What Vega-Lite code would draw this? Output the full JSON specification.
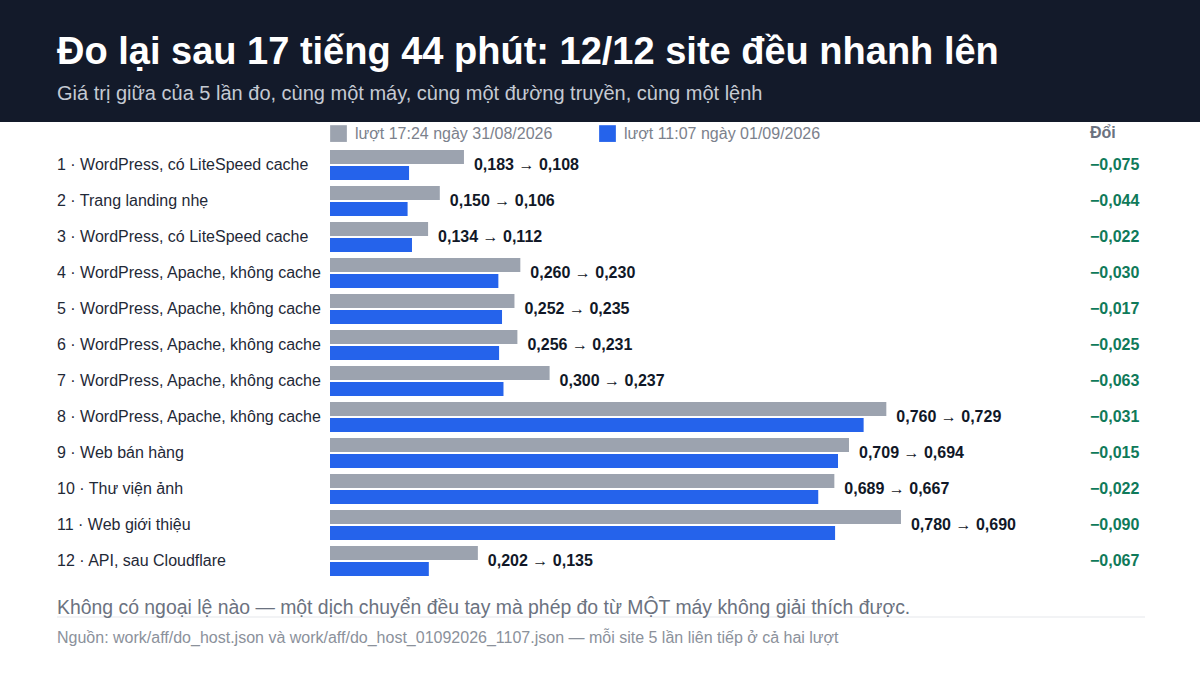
{
  "$schema": "https://vega.github.io/schema/vega-lite/v6.json",
  "width": 1200,
  "height": 553,
  "autosize": "none",
  "padding": {"left": 0, "top": 122, "right": 0, "bottom": 0},
  "background": "#131a2a",
  "title": {
    "text": "Đo lại sau 17 tiếng 44 phút: 12/12 site đều nhanh lên",
    "subtitle": "Giá trị giữa của 5 lần đo, cùng một máy, cùng một đường truyền, cùng một lệnh",
    "anchor": "start",
    "frame": "group",
    "orient": "top",
    "dx": 57,
    "offset": 18,
    "font": "Liberation Sans",
    "fontSize": 38,
    "fontWeight": "bold",
    "color": "#ffffff",
    "subtitleFont": "Liberation Sans",
    "subtitleFontSize": 20,
    "subtitleColor": "#c5cad3",
    "subtitlePadding": 12
  },
  "data": {
    "values": [
      {"rank": 1, "site": "WordPress, có LiteSpeed cache", "before": 0.183, "after": 0.108},
      {"rank": 2, "site": "Trang landing nhẹ", "before": 0.150, "after": 0.106},
      {"rank": 3, "site": "WordPress, có LiteSpeed cache", "before": 0.134, "after": 0.112},
      {"rank": 4, "site": "WordPress, Apache, không cache", "before": 0.260, "after": 0.230},
      {"rank": 5, "site": "WordPress, Apache, không cache", "before": 0.252, "after": 0.235},
      {"rank": 6, "site": "WordPress, Apache, không cache", "before": 0.256, "after": 0.231},
      {"rank": 7, "site": "WordPress, Apache, không cache", "before": 0.300, "after": 0.237},
      {"rank": 8, "site": "WordPress, Apache, không cache", "before": 0.760, "after": 0.729},
      {"rank": 9, "site": "Web bán hàng", "before": 0.709, "after": 0.694},
      {"rank": 10, "site": "Thư viện ảnh", "before": 0.689, "after": 0.667},
      {"rank": 11, "site": "Web giới thiệu", "before": 0.780, "after": 0.690},
      {"rank": 12, "site": "API, sau Cloudflare", "before": 0.202, "after": 0.135}
    ]
  },
  "transform": [
    {"calculate": "datum.rank + ' · ' + datum.site", "as": "label"},
    {"calculate": "replace(format(datum.before, '.3f'), '.', ',') + ' → ' + replace(format(datum.after, '.3f'), '.', ',')", "as": "pair"},
    {"calculate": "(datum.after < datum.before ? '−' : '+') + replace(format(abs(datum.after - datum.before), '.3f'), '.', ',')", "as": "delta"}
  ],
  "layer": [
    {
      "mark": {"type": "bar", "size": 14, "yOffset": -8},
      "encoding": {
        "x": {"field": "before", "type": "quantitative", "scale": {"domain": [-0.45082, 1.18852], "nice": false, "zero": false, "padding": 0}, "axis": null},
        "x2": {"datum": 0},
        "y": {"field": "rank", "type": "quantitative", "scale": {"domain": [-0.19444, 15.16667], "nice": false, "zero": false, "padding": 0, "reverse": true}, "axis": null},
        "color": {
          "datum": "t1",
          "type": "nominal",
          "scale": {"domain": ["t1", "t2"], "range": ["#9ca3af", "#2563eb"]},
          "legend": {
            "orient": "none",
            "legendX": 330,
            "legendY": 3,
            "direction": "horizontal",
            "title": null,
            "symbolType": "square",
            "symbolSize": 280,
            "symbolStrokeWidth": 0,
            "symbolOpacity": 1,
            "labelFont": "Liberation Sans",
            "labelFontSize": 16,
            "labelColor": "#7b818c",
            "labelOffset": 8,
            "labelLimit": 300,
            "columnPadding": 46,
            "labelExpr": "datum.label == 't1' ? 'lượt 17:24 ngày 31/08/2026' : 'lượt 11:07 ngày 01/09/2026'"
          }
        }
      }
    },
    {
      "mark": {"type": "bar", "size": 14, "yOffset": 8},
      "encoding": {
        "x": {"field": "after", "type": "quantitative", "scale": {"domain": [-0.45082, 1.18852], "nice": false, "zero": false, "padding": 0}, "axis": null},
        "x2": {"datum": 0},
        "y": {"field": "rank", "type": "quantitative", "scale": {"domain": [-0.19444, 15.16667], "nice": false, "zero": false, "padding": 0, "reverse": true}, "axis": null},
        "color": {"datum": "t2", "type": "nominal"}
      }
    },
    {
      "mark": {"type": "text", "align": "left", "baseline": "middle", "font": "Liberation Sans", "fontSize": 16, "color": "#1f2937"},
      "encoding": {
        "x": {"datum": -0.37295, "type": "quantitative", "scale": {"domain": [-0.45082, 1.18852], "nice": false, "zero": false, "padding": 0}, "axis": null},
        "y": {"field": "rank", "type": "quantitative", "scale": {"domain": [-0.19444, 15.16667], "nice": false, "zero": false, "padding": 0, "reverse": true}, "axis": null},
        "text": {"field": "label"}
      }
    },
    {
      "mark": {"type": "text", "align": "left", "baseline": "middle", "dx": 10, "font": "Liberation Sans", "fontSize": 16, "fontWeight": "bold", "color": "#111827"},
      "encoding": {
        "x": {"field": "before", "type": "quantitative", "scale": {"domain": [-0.45082, 1.18852], "nice": false, "zero": false, "padding": 0}, "axis": null},
        "y": {"field": "rank", "type": "quantitative", "scale": {"domain": [-0.19444, 15.16667], "nice": false, "zero": false, "padding": 0, "reverse": true}, "axis": null},
        "text": {"field": "pair"}
      }
    },
    {
      "mark": {"type": "text", "align": "left", "baseline": "middle", "font": "Liberation Sans", "fontSize": 16, "fontWeight": "bold", "color": "#0f7a5a"},
      "encoding": {
        "x": {"datum": 1.03825, "type": "quantitative", "scale": {"domain": [-0.45082, 1.18852], "nice": false, "zero": false, "padding": 0}, "axis": null},
        "y": {"field": "rank", "type": "quantitative", "scale": {"domain": [-0.19444, 15.16667], "nice": false, "zero": false, "padding": 0, "reverse": true}, "axis": null},
        "text": {"field": "delta"}
      }
    },
    {
      "data": {"values": [{"text": "Đổi", "x": 1.03825, "y": 0.1111}]},
      "mark": {"type": "text", "align": "left", "baseline": "middle", "font": "Liberation Sans", "fontSize": 16, "fontWeight": "bold", "color": "#6b7280"},
      "encoding": {
        "x": {"field": "x", "type": "quantitative", "scale": {"domain": [-0.45082, 1.18852], "nice": false, "zero": false, "padding": 0}, "axis": null},
        "y": {"field": "y", "type": "quantitative", "scale": {"domain": [-0.19444, 15.16667], "nice": false, "zero": false, "padding": 0, "reverse": true}, "axis": null},
        "text": {"field": "text"}
      }
    },
    {
      "data": {"values": [{"x": -0.37295, "x2": 1.11339, "y": 13.5556}]},
      "mark": {"type": "rule", "color": "#e5e7eb", "strokeWidth": 1},
      "encoding": {
        "x": {"field": "x", "type": "quantitative", "scale": {"domain": [-0.45082, 1.18852], "nice": false, "zero": false, "padding": 0}, "axis": null},
        "x2": {"field": "x2"},
        "y": {"field": "y", "type": "quantitative", "scale": {"domain": [-0.19444, 15.16667], "nice": false, "zero": false, "padding": 0, "reverse": true}, "axis": null}
      }
    },
    {
      "data": {"values": [{"text": "Không có ngoại lệ nào — một dịch chuyển đều tay mà phép đo từ MỘT máy không giải thích được.", "x": -0.37295, "y": 13.3056}]},
      "mark": {"type": "text", "align": "left", "baseline": "middle", "font": "Liberation Sans", "fontSize": 19.4, "color": "#6b7280"},
      "encoding": {
        "x": {"field": "x", "type": "quantitative", "scale": {"domain": [-0.45082, 1.18852], "nice": false, "zero": false, "padding": 0}, "axis": null},
        "y": {"field": "y", "type": "quantitative", "scale": {"domain": [-0.19444, 15.16667], "nice": false, "zero": false, "padding": 0, "reverse": true}, "axis": null},
        "text": {"field": "text"}
      }
    },
    {
      "data": {"values": [{"text": "Nguồn: work/aff/do_host.json và work/aff/do_host_01092026_1107.json — mỗi site 5 lần liên tiếp ở cả hai lượt", "x": -0.37295, "y": 14.1389}]},
      "mark": {"type": "text", "align": "left", "baseline": "middle", "font": "Liberation Sans", "fontSize": 16, "color": "#8b919b"},
      "encoding": {
        "x": {"field": "x", "type": "quantitative", "scale": {"domain": [-0.45082, 1.18852], "nice": false, "zero": false, "padding": 0}, "axis": null},
        "y": {"field": "y", "type": "quantitative", "scale": {"domain": [-0.19444, 15.16667], "nice": false, "zero": false, "padding": 0, "reverse": true}, "axis": null},
        "text": {"field": "text"}
      }
    }
  ],
  "config": {
    "view": {"fill": "#ffffff", "stroke": null}
  }
}
